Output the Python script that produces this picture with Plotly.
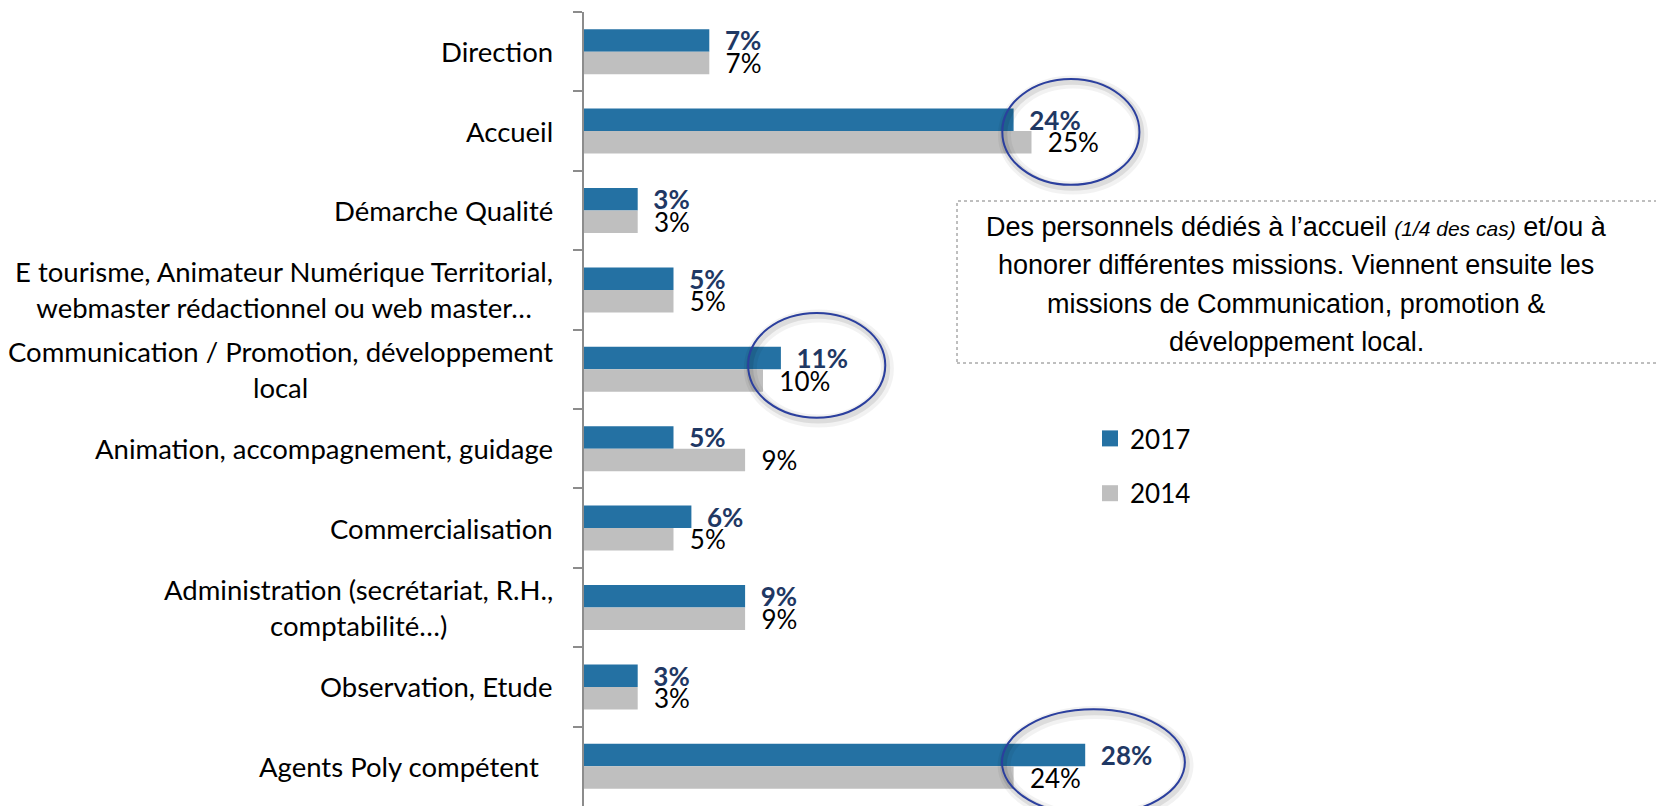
import plotly.graph_objects as go

##### DATA #####
categories = [
	"Direction",
	"Accueil",
	"Démarche Qualité",
	"E tourisme, Animateur Numérique Territorial,<br>webmaster rédactionnel ou web master…",
	"Communication / Promotion, développement<br>local",
	"Animation, accompagnement, guidage",
	"Commercialisation",
	"Administration (secrétariat, R.H.,<br>comptabilité…)",
	"Observation, Etude",
	"Agents Poly compétent\u00a0\u00a0",
]
vals_2017 = [7, 24, 3, 5, 11, 5, 6, 9, 3, 28]
vals_2014 = [7, 25, 3, 5, 10, 9, 5, 9, 3, 24]
series_names = ["2017", "2014"]

box_lines = [
	"Des personnels dédiés à l’accueil <i><span style='font-size:21px'>(1/4 des cas)</span></i> et/ou à",
	"honorer différentes missions. Viennent ensuite les",
	"missions de Communication, promotion &",
	"développement local.",
]

# circled labels: (row centre, centre in %, half width in %, half height in rows)
highlights = [(1.01, 27.2, 3.83, 0.667), (3.95, 13.0, 3.83, 0.66), (8.95, 28.46, 5.11, 0.667)]

##### STYLE #####
# the page body has an 8px margin, so the figure is 8px smaller than the window
BODY = 8
W, H = 1664 - BODY, 806 - BODY
L, T = 584 - BODY, 12 - BODY
PX_PER_PCT = 17.9
BLUE = "#2471A3"
GREY = "#BFBFBF"
NAVY = "#1F3864"
AXIS = "#8C8C8C"
LABEL_FONT = "Lato"
pad = "\u00a0\u00a0"

plot_w = W - L
plot_h = H - T

def px_x(x):  # window pixel -> paper x
	return (x - BODY - L) / plot_w

def px_y(y):  # window pixel -> paper y
	return (H + BODY - y) / plot_h

bar2017 = go.Bar(
	name=series_names[0], y=categories, x=vals_2017, orientation="h",
	marker=dict(color=BLUE, line=dict(width=0)),
	text=[pad + f"{v}%" for v in vals_2017], textposition="outside",
	textfont=dict(family=LABEL_FONT, size=26, color=NAVY, weight=700),
	constraintext="none", cliponaxis=False, showlegend=False,
)
bar2014 = go.Bar(
	name=series_names[1], y=categories, x=vals_2014, orientation="h",
	marker=dict(color=GREY, line=dict(width=0)),
	text=[pad + f"{v}%" for v in vals_2014], textposition="outside",
	textfont=dict(family=LABEL_FONT, size=26, color="black"),
	constraintext="none", cliponaxis=False, showlegend=False,
)

# legend entries with a bigger square key, like the original
keys = [
	go.Scatter(name=n, x=[None], y=[None], mode="markers", legendgroup=n,
		marker=dict(symbol="square", size=16, color=c))
	for n, c in zip(series_names, [BLUE, GREY])
]

fig = go.Figure(data=[bar2017, bar2014] + keys)

# category labels, centred lines like the original
for c in categories:
	fig.add_annotation(
		x=0, xref="paper", xanchor="right", xshift=-29,
		y=c, yref="y", yanchor="middle",
		text=c, align="center", showarrow=False,
		font=dict(family=LABEL_FONT, size=27.5, color="black"),
	)

# ellipses around the key labels (soft shadow then blue outline)
for cy, cx, rx, ry in highlights:
	for dx, dy, w, col in [(0.12, 0.04, 13, "rgba(0,0,0,0.05)"), (0.08, 0.03, 7, "rgba(0,0,0,0.09)")]:
		fig.add_shape(type="circle", xref="x", yref="y",
			x0=cx - rx + dx, x1=cx + rx + dx, y0=cy - ry + dy, y1=cy + ry + dy,
			line=dict(color=col, width=w), layer="above")
	fig.add_shape(type="circle", xref="x", yref="y",
		x0=cx - rx, x1=cx + rx, y0=cy - ry, y1=cy + ry,
		line=dict(color="#2B3F9E", width=2), layer="above")

# comment box
fig.add_shape(type="rect", xref="paper", yref="paper",
	x0=px_x(957), x1=1.05, y0=px_y(363), y1=px_y(201),
	line=dict(color="#7F7F7F", width=1, dash="dot"), fillcolor="rgba(0,0,0,0)")
for i, line in enumerate(box_lines):
	fig.add_annotation(
		x=px_x(1296), xref="paper", xanchor="center",
		y=px_y(227 + i * 38.3), yref="paper", yanchor="middle",
		text=line, showarrow=False,
		font=dict(family="Liberation Sans, Arial", size=27, color="black"),
	)

fig.update_layout(
	width=W, height=H,
	margin=dict(l=L, r=0, t=T, b=0, pad=0),
	paper_bgcolor="white", plot_bgcolor="white",
	barmode="group", bargap=0.433, bargroupgap=0,
	showlegend=True,
	legend=dict(
		x=px_x(1090), xanchor="left",
		y=px_y(415), yanchor="top",
		traceorder="grouped", tracegroupgap=18, itemsizing="trace",
		font=dict(family=LABEL_FONT, size=26, color="black"),
		bgcolor="rgba(0,0,0,0)", borderwidth=0,
	),
	xaxis=dict(range=[0, plot_w / PX_PER_PCT], visible=False, fixedrange=True, automargin=False),
	yaxis=dict(
		type="category", categoryorder="array", categoryarray=categories,
		range=[9.5, -0.5], showticklabels=False, showgrid=False, zeroline=False,
		showline=True, linecolor=AXIS, linewidth=1.5, automargin=False,
		ticks="outside", tickson="boundaries", ticklen=9, tickcolor=AXIS, tickwidth=1.5,
	),
)

fig.write_html("out.html")
